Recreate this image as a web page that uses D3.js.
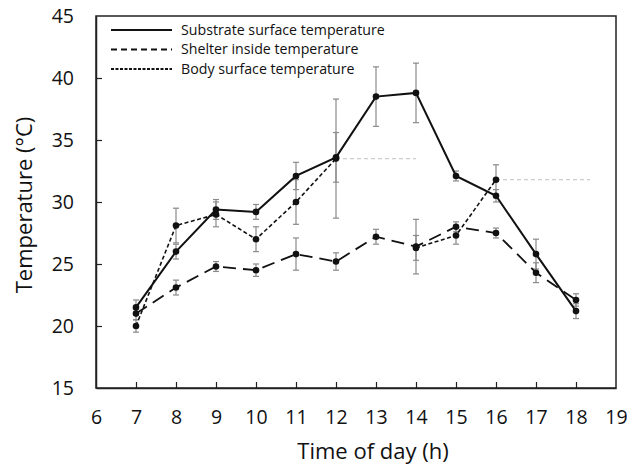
<!DOCTYPE html>
<html>
<head>
<meta charset="utf-8">
<script src="https://cdn.jsdelivr.net/npm/d3@7"></script>
<style>
  body { margin: 0; background: #fff; }
  svg { font-family: "Open Sans", "Noto Sans", sans-serif; }
</style>
</head>
<body>
<div id="chart"></div>
<script>
// values
const hours = [7, 8, 9, 10, 11, 12, 13, 14, 15, 16, 17, 18];
const substrate = [21.5, 26.0, 29.4, 29.2, 32.1, 33.6, 38.5, 38.8, 32.1, 30.5, 25.8, 21.2];
const substrateErr = [0.6, 0.6, 0.8, 0.6, 1.1, 2.0, 2.4, 2.4, 0.4, 0.5, 1.2, 0.6];
const shelter = [21.0, 23.1, 24.8, 24.5, 25.8, 25.2, 27.2, 26.4, 28.0, 27.5, 24.3, 22.1];
const shelterErr = [0.5, 0.6, 0.4, 0.5, 1.3, 0.7, 0.6, 2.2, 0.4, 0.4, 0.8, 0.5];
// body surface: no value at 13 h and after 16 h
const body = [20.0, 28.1, 29.0, 27.0, 30.0, 33.5, null, 26.3, 27.3, 31.8, null, null];
const bodyErr = [0.5, 1.4, 1.0, 1.0, 1.8, 4.8, null, 1.0, 0.7, 1.2, null, null];
// faint grey dotted lines seen in the figure
const gapLines = [
  {from: 12, to: 14, y: 33.5},
  {from: 16, to: 18.35, y: 31.8}
];
const xTicks = d3.range(6, 20);
const yTicks = [15, 20, 25, 30, 35, 40, 45];

const legendItems = [
  {name: "Substrate surface temperature", dash: null},
  {name: "Shelter inside temperature", dash: "6,4"},
  {name: "Body surface temperature", dash: "3,1.5"}
];

const width = 627, height = 466;
const margin = {top: 16, right: 11, bottom: 78, left: 96};

const svg = d3.select("#chart").append("svg")
    .attr("width", width)
    .attr("height", height);

const x = d3.scaleLinear().domain([6, 19]).range([margin.left, width - margin.right]);
const y = d3.scaleLinear().domain([15, 45]).range([height - margin.bottom, margin.top]);

// frame
svg.append("rect")
    .attr("x", x(6)).attr("y", y(45))
    .attr("width", x(19) - x(6)).attr("height", y(15) - y(45))
    .attr("fill", "none").attr("stroke", "#222").attr("stroke-width", 1.5);

// axes with inward ticks
const xAxis = svg.append("g")
    .attr("transform", `translate(0,${y(15)})`)
    .call(d3.axisBottom(x).tickValues(xTicks).tickSizeInner(-6).tickSizeOuter(0).tickPadding(22));
const yAxis = svg.append("g")
    .attr("transform", `translate(${x(6)},0)`)
    .call(d3.axisLeft(y).tickValues(yTicks).tickSizeInner(-6).tickSizeOuter(0).tickPadding(22));

[xAxis, yAxis].forEach(g => {
  g.select(".domain").attr("stroke", "#222").attr("stroke-width", 1.5);
  g.selectAll(".tick line").attr("stroke", "#222").attr("stroke-width", 1.2);
  g.selectAll(".tick text").attr("font-size", 19.5).attr("fill", "#111")
    .attr("font-family", "'Open Sans', sans-serif");
});
yAxis.selectAll(".tick line").filter(d => d === 45 || d === 15).remove();
xAxis.selectAll(".tick line").filter(d => d === 6 || d === 19).remove();

// gap lines
svg.selectAll(".gap")
  .data(gapLines)
  .enter().append("line")
    .attr("x1", d => x(d.from)).attr("x2", d => x(d.to))
    .attr("y1", d => y(d.y)).attr("y2", d => y(d.y))
    .attr("stroke", "#ccc").attr("stroke-width", 1.2)
    .attr("stroke-dasharray", "4,3");

const series = [
  {vals: substrate, err: substrateErr, dash: null, w: 2},
  {vals: shelter, err: shelterErr, dash: "13,7", w: 1.8},
  {vals: body, err: bodyErr, dash: "4,2.5", w: 1.6}
];

// error bars first so lines sit on top
series.forEach(s => {
  const pts = hours.map((h, i) => ({h, v: s.vals[i], e: s.err[i]}))
    .filter(d => d.v !== null);
  const g = svg.append("g").attr("stroke", "#8a8a8a").attr("stroke-width", 1.2);
  pts.forEach(d => {
    g.append("line")
      .attr("x1", x(d.h)).attr("x2", x(d.h))
      .attr("y1", y(d.v - d.e)).attr("y2", y(d.v + d.e));
    [d.v - d.e, d.v + d.e].forEach(c => {
      g.append("line")
        .attr("x1", x(d.h) - 3).attr("x2", x(d.h) + 3)
        .attr("y1", y(c)).attr("y2", y(c));
    });
  });
});

series.forEach(s => {
  const pts = hours.map((h, i) => ({h, v: s.vals[i]}));
  const line = d3.line()
      .defined(d => d.v !== null)
      .x(d => x(d.h))
      .y(d => y(d.v));
  svg.append("path")
      .datum(pts)
      .attr("d", line)
      .attr("fill", "none")
      .attr("stroke", "#111")
      .attr("stroke-width", s.w)
      .attr("stroke-dasharray", s.dash);
  svg.selectAll(null)
    .data(pts.filter(d => d.v !== null))
    .enter().append("circle")
      .attr("cx", d => x(d.h))
      .attr("cy", d => y(d.v))
      .attr("r", 3.3)
      .attr("fill", "#111");
});

// legend
const legend = svg.append("g");
legendItems.forEach((d, i) => {
  const ly = 30 + i * 19.5;
  legend.append("line")
    .attr("x1", 111).attr("x2", 172)
    .attr("y1", ly).attr("y2", ly)
    .attr("stroke", "#111").attr("stroke-width", 1.8)
    .attr("stroke-dasharray", d.dash);
  legend.append("text")
    .attr("x", 181).attr("y", ly)
    .attr("dy", "0.35em")
    .attr("font-size", 14.2)
    .attr("fill", "#111")
    .text(d.name);
});

// axis titles
svg.append("text")
    .attr("x", 373).attr("y", 459)
    .attr("text-anchor", "middle")
    .attr("font-size", 22)
    .attr("fill", "#111")
    .text("Time of day (h)");
svg.append("text")
    .attr("transform", `translate(32,205) rotate(-90)`)
    .attr("text-anchor", "middle")
    .attr("font-size", 22)
    .attr("fill", "#111")
    .text("Temperature (°C)");
</script>
</body>
</html>
